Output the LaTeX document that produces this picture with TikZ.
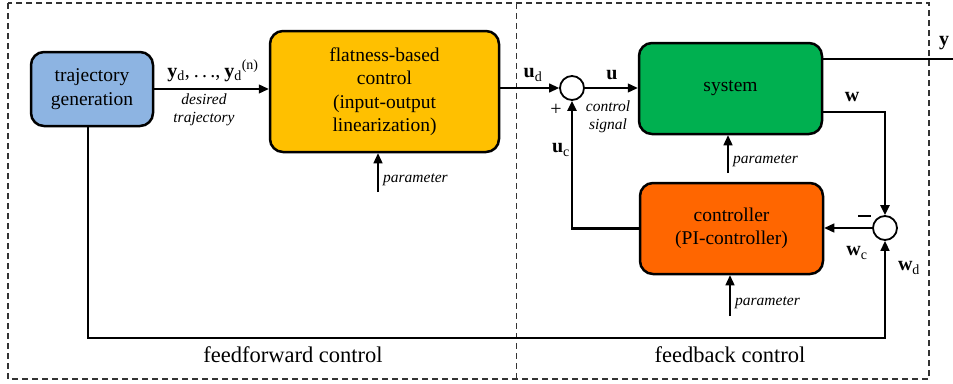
\documentclass[tikz,border=0pt]{standalone}
\usepackage{fontspec}
\setmainfont{Liberation Serif}
\usetikzlibrary{arrows.meta,calc}

\definecolor{trajblue}{HTML}{8DB4E2}
\definecolor{flatyellow}{HTML}{FFC000}
\definecolor{sysgreen}{HTML}{00B050}
\definecolor{ctrlorange}{HTML}{FF6600}
\definecolor{frame}{HTML}{333333}

\newcommand\boxfont{\fontsize{19.5}{23.5}\selectfont}
\newcommand\noteit{\fontsize{15.5}{18.5}\selectfont\itshape}
\newcommand\regionfont{\fontsize{22.5}{27}\selectfont}
\newcommand\sigfont{\fontsize{20}{24}\selectfont}
\newcommand\spdots{.\hspace{3.2pt}.\hspace{3.2pt}.}

\begin{document}
\begin{tikzpicture}[x=1pt,y=-1pt,
  blockbox/.style={draw=black,line width=2.5pt,rounded corners=13pt,
    inner sep=2pt,align=center,font=\boxfont},
  sumpt/.style={draw=black,line width=1.8pt,circle,fill=white,
    minimum size=24pt,inner sep=0pt},
  arr/.style={line width=1.3pt,-{Triangle[length=10pt,width=9pt]}},
  heavy/.style={line width=2.2pt},
  regionline/.style={draw=frame,line width=1.3pt,dash pattern=on 6pt off 4pt},
  note/.style={font=\noteit,align=center,inner sep=0pt},
  sig/.style={font=\sigfont,inner sep=0pt},
]
\useasboundingbox (0,0) rectangle (953,383);

% control regions
\draw[regionline] (8,3) rectangle (929,379);
\draw[regionline] (516.7,3) -- (516.7,379);
\node[font=\regionfont] (fflabel) at (293,355) {feedforward control};
\node[font=\regionfont] (fblabel) at (730,355) {feedback control};

% blocks
\node[blockbox,fill=trajblue,minimum width=122pt,minimum height=74pt]
  (traj) at (92,89) {trajectory\\generation};
\node[blockbox,fill=flatyellow,minimum width=229pt,minimum height=121pt]
  (flat) at (384.5,91.5) {flatness-based\\control\\(input-output\\linearization)};
\node[blockbox,fill=sysgreen,minimum width=183pt,minimum height=91pt]
  (sys) at (730.5,88.5) {system};
\node[blockbox,fill=ctrlorange,minimum width=183pt,minimum height=91pt]
  (ctrl) at (731.5,228.5) {controller\\(PI-controller)};

% summing points
\node[sumpt] (s1) at (572,88) {};
\node[sumpt] (s2) at (885,228) {};

% helper points
\coordinate (yout) at (953,59);
\coordinate (wturn) at (885,112);
\coordinate (trajdown) at (88,126);
\coordinate (bottom) at (0,338);
\coordinate (pflat) at (378,192);
\coordinate (psys) at (728,173);
\coordinate (pctrl) at (730,316);

% feedforward path
\draw[arr] (traj.east |- 0,89) -- (flat.west |- 0,89);
\draw[arr] (flat.east |- s1.west) -- (s1.west);
\draw[arr] (s1.east) -- (s1.east -| sys.west);
\draw[line width=1.3pt] (sys.east |- yout) -- (yout);

% feedback loop
\draw[arr,heavy] (sys.east |- wturn) -- (wturn) -- (s2.north);
\draw[arr] (s2.west) -- (s2.west -| ctrl.east);
\draw[arr,heavy] (ctrl.west) -- (ctrl.west -| s1) -- (s1.south);
\draw[arr,line width=1.6pt] (trajdown) -- (trajdown |- bottom) -- (bottom -| s2) -- (s2.south);

% parameter inputs
\draw[arr] (pflat) -- (pflat |- flat.south);
\draw[arr] (psys) -- (psys |- sys.south);
\draw[arr] (pctrl) -- (pctrl |- ctrl.south);
\node[note,anchor=west] (parflat) at (383,180) {parameter};
\node[note,anchor=west] (parsys) at (733,161) {parameter};
\node[note,anchor=west] (parctrl) at (735,303) {parameter};

% signal labels
\node[sig] (ydlabel) at (213,71) {\textbf{y}\textsubscript{d},\hspace{4pt}\spdots,\hspace{4pt}\textbf{y}\textsubscript{d}\textsuperscript{(n)}};
\node[note] (desired) at (204,110) {desired\\trajectory};
\node[sig] (udlabel) at (533,75) {\textbf{u}\textsubscript{d}};
\node[sig] (ulabel) at (612,75) {\textbf{u}};
\node[note] (ctrlsig) at (608,117) {control\\signal};
\node[sig] (plus) at (556,110) {+};
\node[sig] (uclabel) at (561,150) {\textbf{u}\textsubscript{c}};
\node[sig] (wlabel) at (852,97) {\textbf{w}};
\node[sig] (ylabel) at (944,43) {\textbf{y}};
\node[inner sep=0pt] (minus) at (864.5,216) {\rule{13pt}{2.2pt}};
\node[sig] (wclabel) at (857,253) {\textbf{w}\textsubscript{c}};
\node[sig] (wdlabel) at (909,268) {\textbf{w}\textsubscript{d}};
\end{tikzpicture}
\end{document}
